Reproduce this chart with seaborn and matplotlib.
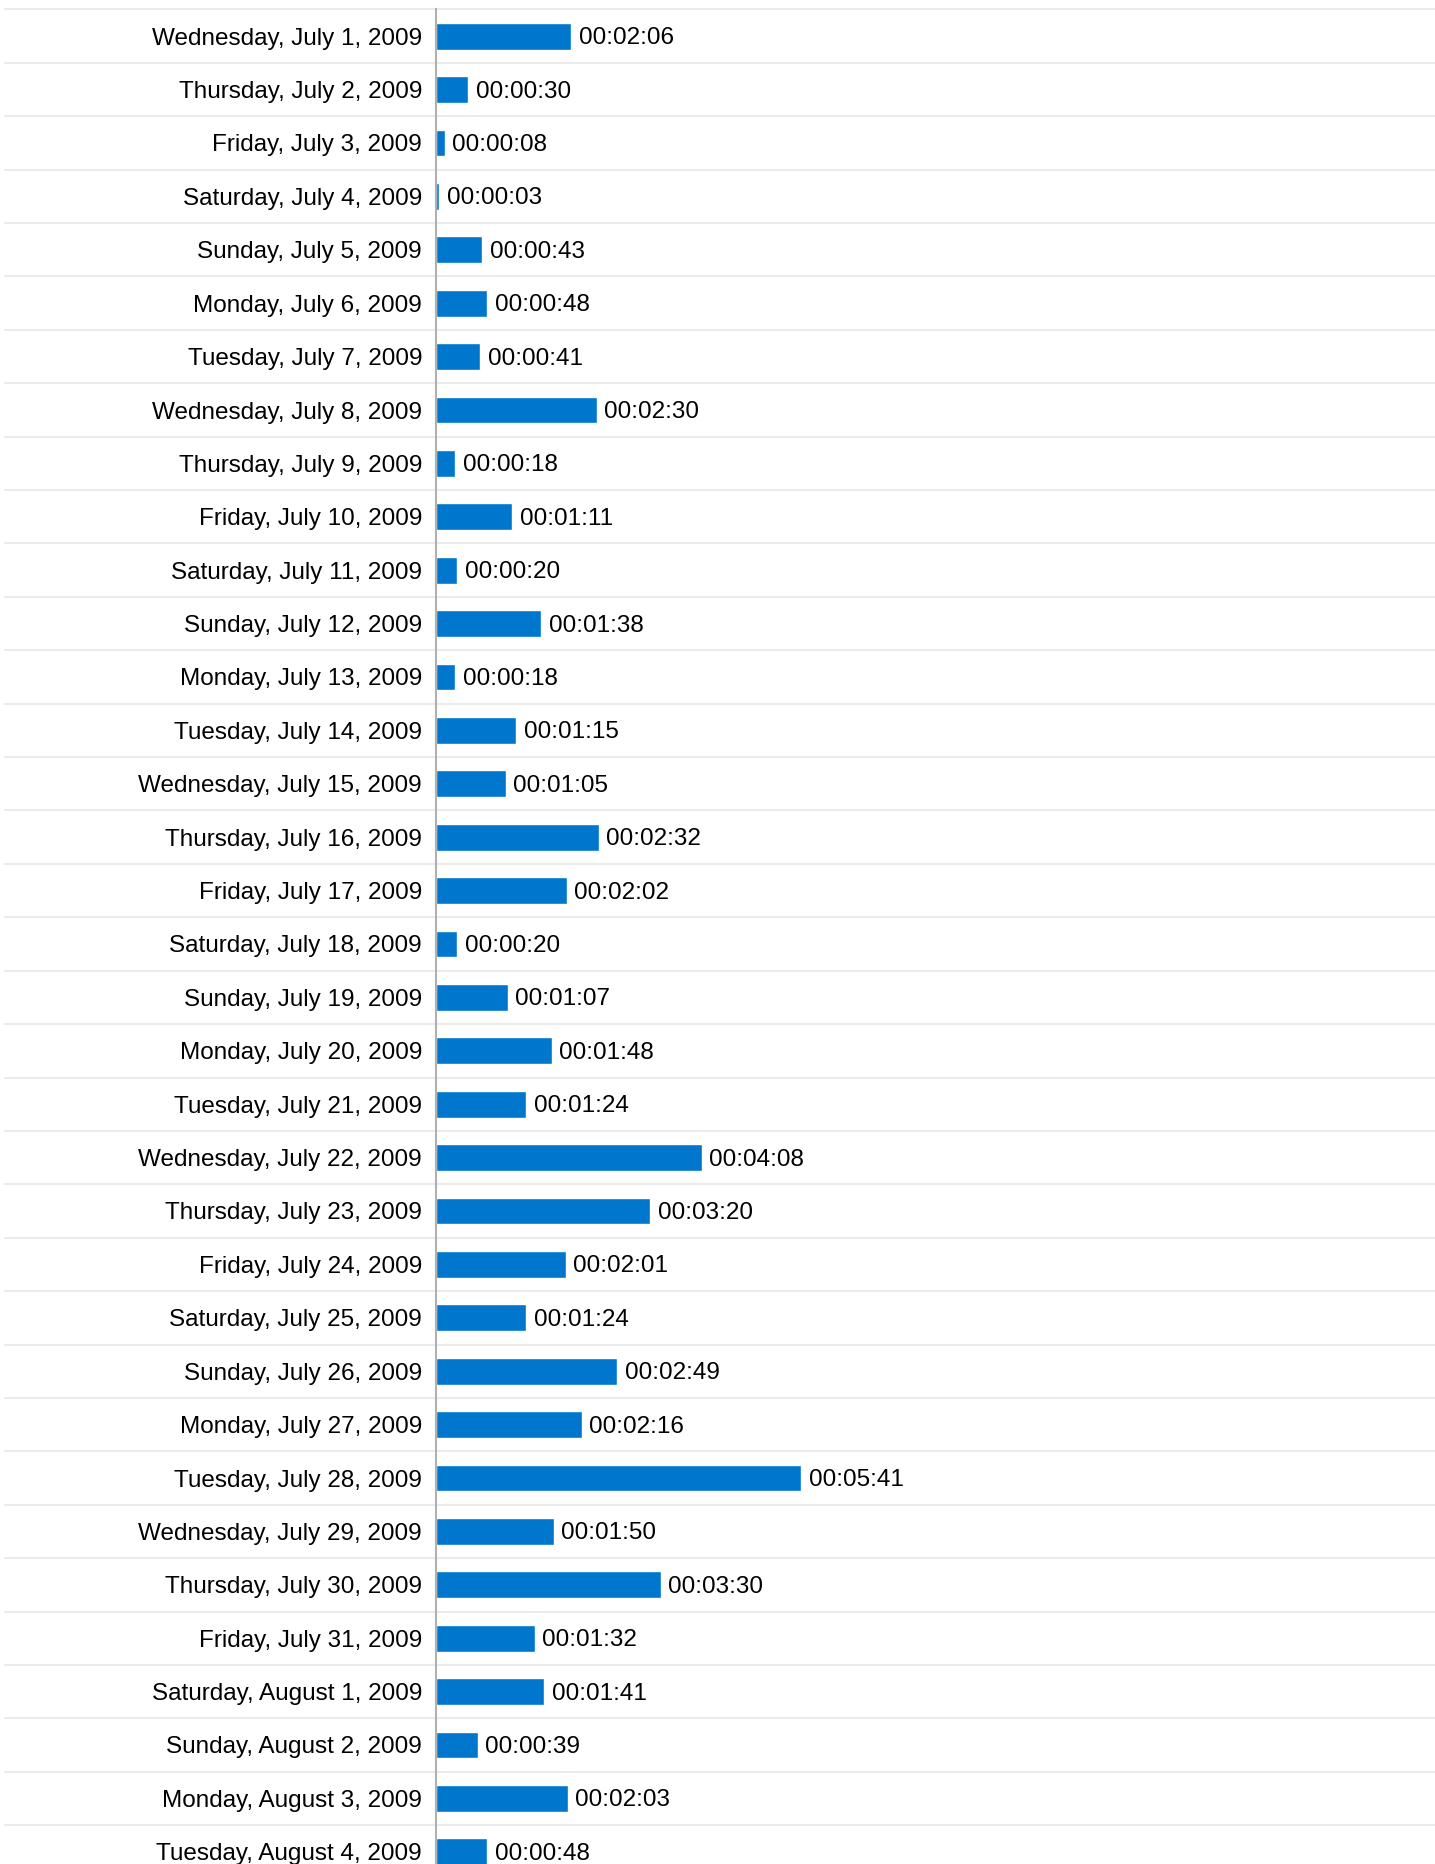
import pandas as pd
import numpy as np
import matplotlib
matplotlib.use("Agg")
import matplotlib.pyplot as plt
import seaborn as sns

# ================================
# Data: average time per day (seconds)
# ================================
days = [
    "Wednesday, July 1, 2009", "Thursday, July 2, 2009", "Friday, July 3, 2009",
    "Saturday, July 4, 2009", "Sunday, July 5, 2009", "Monday, July 6, 2009",
    "Tuesday, July 7, 2009", "Wednesday, July 8, 2009", "Thursday, July 9, 2009",
    "Friday, July 10, 2009", "Saturday, July 11, 2009", "Sunday, July 12, 2009",
    "Monday, July 13, 2009", "Tuesday, July 14, 2009", "Wednesday, July 15, 2009",
    "Thursday, July 16, 2009", "Friday, July 17, 2009", "Saturday, July 18, 2009",
    "Sunday, July 19, 2009", "Monday, July 20, 2009", "Tuesday, July 21, 2009",
    "Wednesday, July 22, 2009", "Thursday, July 23, 2009", "Friday, July 24, 2009",
    "Saturday, July 25, 2009", "Sunday, July 26, 2009", "Monday, July 27, 2009",
    "Tuesday, July 28, 2009", "Wednesday, July 29, 2009", "Thursday, July 30, 2009",
    "Friday, July 31, 2009", "Saturday, August 1, 2009", "Sunday, August 2, 2009",
    "Monday, August 3, 2009", "Tuesday, August 4, 2009",
]
seconds = [
    126, 30, 8, 3, 43, 48, 41, 150, 18, 71, 20, 98, 18, 75, 65, 152, 122, 20,
    67, 108, 84, 248, 200, 121, 84, 169, 136, 341, 110, 210, 92, 101, 39, 123, 48,
]

df = pd.DataFrame({"day": days, "seconds": seconds})

# ================================
# Layout
# ================================
W, H = 1435, 1864
row_px = 53.4
top_px = 9.5
axis_x = 436

sns.set_theme(style="white")
plt.rcParams["font.family"] = ["Liberation Sans", "DejaVu Sans"]

fig = plt.figure(figsize=(W / 100, H / 100), dpi=100)
ax_h = len(days) * row_px
ax = fig.add_axes([axis_x / W, (H - top_px - ax_h) / H, (W - axis_x) / W, ax_h / H])

sns.barplot(data=df, x="seconds", y="day", orient="h", color="#0077CC",
            width=0.5, saturation=1, ax=ax)

ax.set_xlim(0, 933)
ax.set_ylim(len(days) - 0.5, -0.5)
ax.set_xlabel("")
ax.set_ylabel("")
ax.set_xticks([])
ax.tick_params(axis="y", length=0, pad=10, labelsize=17.5, labelcolor="#000000")

for s in ["top", "right", "bottom"]:
    ax.spines[s].set_visible(False)
ax.spines["left"].set_color("#B0B0B0")
ax.spines["left"].set_linewidth(1.5)
ax.spines["left"].set_zorder(5)

# row separators spanning the label area too
left_frac = (5 - axis_x) / (W - axis_x)
for i in range(len(days) + 1):
    ax.axhline(i - 0.5, xmin=left_frac, xmax=1, color="#EBEBEB", lw=1.5,
               clip_on=False, zorder=0)

# value labels
for i, v in enumerate(seconds):
    lab = f"00:{v // 60:02d}:{v % 60:02d}"
    ax.annotate(lab, (v, i), xytext=(5.5, -1.5), textcoords="offset points",
                va="center", ha="left", fontsize=17.5, color="#000000")

plt.savefig("out.png", dpi=100)
plt.close()
